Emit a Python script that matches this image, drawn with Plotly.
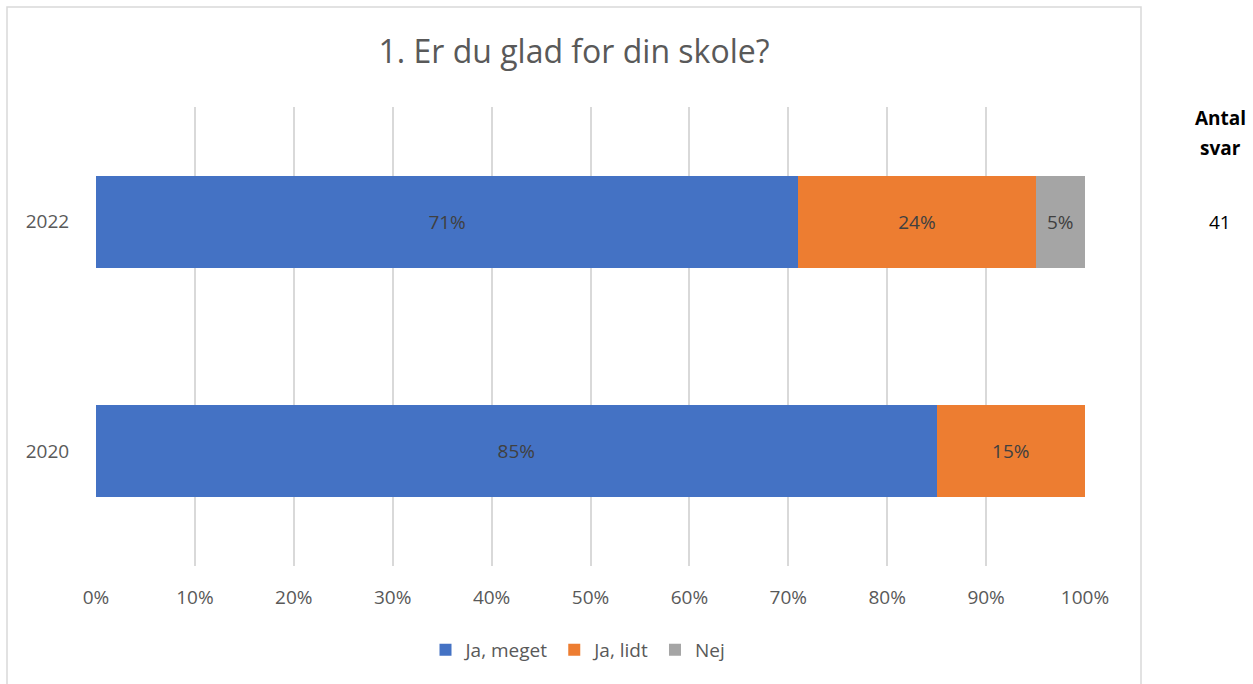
import plotly.graph_objects as go

years = ["2020", "2022"]
ja_meget = [85, 71]
ja_lidt = [15, 24]
nej = [0, 5]
antal_svar = ["", "41"]
series_names = ["Ja, meget", "Ja, lidt", "Nej"]
colors = ["#4472C4", "#ED7D31", "#A5A5A5"]
x_ticks = [0, 10, 20, 30, 40, 50, 60, 70, 80, 90, 100]

FONT = "Open Sans"
FS = 19
fig = go.Figure()
for name, vals, col in zip(series_names, [ja_meget, ja_lidt, nej], colors):
    fig.add_trace(go.Bar(
        y=years, x=vals, name=name, orientation="h",
        marker=dict(color=col, line=dict(width=0)),
        text=[f"{v}%" if v else "" for v in vals],
        textposition="inside", insidetextanchor="middle",
        textfont=dict(family=FONT, size=FS, color="#404040"),
        hoverinfo="skip",
    ))

L, R, T, B = 96, 1085, 107, 566
W, H = 1253, 684
pw, ph = R - L, B - T

def px(x):
    return (x - L) / pw

def py(y):
    return (B - y) / ph

fig.update_layout(
    width=W, height=H,
    margin=dict(l=L, r=W - R, t=T, b=H - B, pad=0, autoexpand=False),
    barmode="stack", bargap=0.6,
    plot_bgcolor="white", paper_bgcolor="white",
    title=dict(text="1. Er du glad for din skole?", x=px(574), xanchor="center",
               xref="paper", y=1 - 52 / H, yanchor="middle",
               font=dict(family=FONT, size=32, color="#595959")),
    xaxis=dict(range=[0, 100], tickvals=x_ticks, ticktext=[f"{t}%" for t in x_ticks],
               showgrid=True, gridcolor="#D9D9D9", gridwidth=1.5, zeroline=False,
               showline=False, ticks="outside", ticklen=14, tickcolor="rgba(0,0,0,0)",
               tickfont=dict(family=FONT, size=FS, color="#595959")),
    yaxis=dict(type="category", categoryorder="array", categoryarray=years,
               range=[-0.5, 1.5],
               showgrid=False, zeroline=False, showline=False,
               ticks="outside", ticklen=22, tickcolor="rgba(0,0,0,0)",
               tickfont=dict(family=FONT, size=FS, color="#595959")),
    legend=dict(orientation="h", x=px(578), xanchor="center", y=py(650), yanchor="middle",
                font=dict(family=FONT, size=FS, color="#595959"), traceorder="normal",
                itemwidth=30),
    showlegend=True,
)

fig.add_shape(type="rect", xref="paper", yref="paper",
              x0=px(7), x1=px(1141), y0=py(700), y1=py(7),
              line=dict(color="#D9D9D9", width=1.5), fillcolor="rgba(0,0,0,0)", layer="below")

fig.add_annotation(text="<b>Antal</b>", xref="paper", yref="paper",
                   x=px(1220), y=py(118), xanchor="center", yanchor="middle",
                   showarrow=False, font=dict(family=FONT, size=FS, color="#000000"))
fig.add_annotation(text="<b>svar</b>", xref="paper", yref="paper",
                   x=px(1220), y=py(148), xanchor="center", yanchor="middle",
                   showarrow=False, font=dict(family=FONT, size=FS, color="#000000"))
for i, n in enumerate(antal_svar):
    if n:
        fig.add_annotation(text=n, xref="paper", yref="y", x=px(1220), y=i,
                           xanchor="center", yanchor="middle", showarrow=False,
                           font=dict(family=FONT, size=FS, color="#000000"))

fig.write_html("out.html", config={"displayModeBar": False},
               post_script="document.body.style.margin='0';")
